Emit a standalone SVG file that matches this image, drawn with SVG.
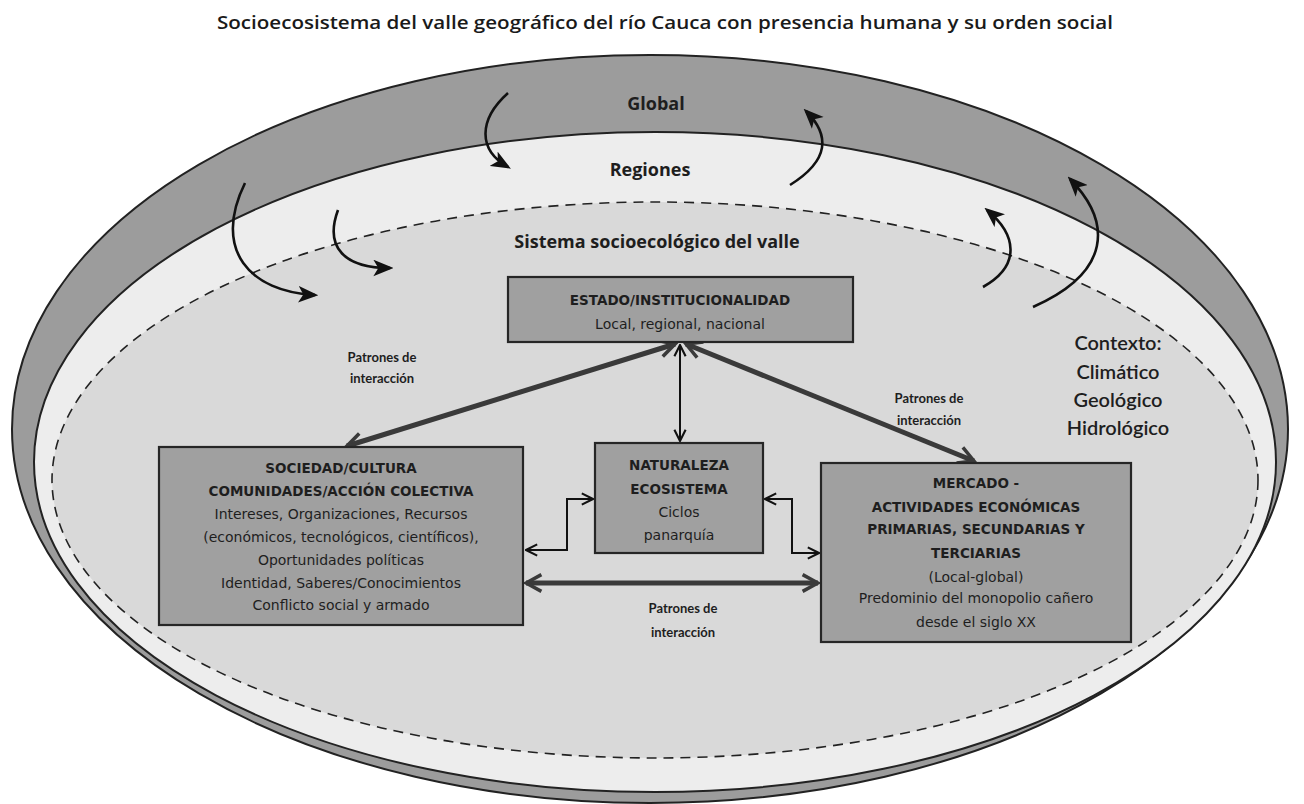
<svg xmlns="http://www.w3.org/2000/svg" width="1304" height="804" viewBox="0 0 1304 804">
<defs>
<style>
.title{font-family:"Open Sans","Liberation Sans",sans-serif;font-weight:600;font-size:18px;fill:#1a1a1a}
.lvl{font-family:"Open Sans","Liberation Sans",sans-serif;font-weight:700;font-size:18px;fill:#1e1e1e}
.box{fill:#a0a0a0;stroke:#262626;stroke-width:2.2}
.hb{font-family:"DejaVu Sans","Liberation Sans",sans-serif;font-weight:700;font-size:13.5px;fill:#1e1e1e;text-anchor:middle}
.tx{font-family:"DejaVu Sans","Liberation Sans",sans-serif;font-weight:400;font-size:14px;fill:#1e1e1e;text-anchor:middle}
.pat{font-family:"Lato","Liberation Sans",sans-serif;font-weight:700;font-size:13px;fill:#1e1e1e;text-anchor:middle}
.ctx{font-family:"Lato","Liberation Sans",sans-serif;font-weight:600;font-size:20px;fill:#1e1e1e;text-anchor:middle}
.thick{fill:none;stroke:#3a3a3a;stroke-width:5;marker-start:url(#chevT);marker-end:url(#chevT)}
.thin{fill:none;stroke:#111;stroke-width:2;marker-start:url(#chev);marker-end:url(#chev)}
.curve{fill:none;stroke:#111;stroke-width:2.6;marker-end:url(#head)}
</style>
<marker id="chev" viewBox="0 0 10 10" refX="9" refY="5" markerWidth="14" markerHeight="14" markerUnits="userSpaceOnUse" orient="auto-start-reverse">
<path d="M1,1 L9,5 L1,9" fill="none" stroke="#111" stroke-width="1.5"/>
</marker>
<marker id="chevT" viewBox="0 0 10 10" refX="8.5" refY="5" markerWidth="22" markerHeight="22" markerUnits="userSpaceOnUse" orient="auto-start-reverse">
<path d="M1.5,1.2 L8.5,5 L1.5,8.8" fill="none" stroke="#3a3a3a" stroke-width="1.6"/>
</marker>
<marker id="head" viewBox="0 0 12 10" refX="10" refY="5" markerWidth="20" markerHeight="17" markerUnits="userSpaceOnUse" orient="auto">
<path d="M0,0 L12,5 L0,10 L3,5 z" fill="#111"/>
</marker>
</defs>
<rect x="0" y="0" width="1304" height="804" fill="#ffffff"/>
<text class="title" x="217" y="29" textLength="896" lengthAdjust="spacingAndGlyphs">Socioecosistema del valle geográfico del río Cauca con presencia humana y su orden social</text>

<g id="global">
<ellipse cx="650" cy="429" rx="638" ry="374" fill="#9c9c9c" stroke="#222" stroke-width="2"/>
<text class="lvl" x="656" y="110" text-anchor="middle">Global</text>
</g>
<g id="regiones">
<ellipse cx="655" cy="462" rx="621" ry="330" fill="#ededed" stroke="#222" stroke-width="2"/>
<text class="lvl" x="650" y="176" text-anchor="middle">Regiones</text>
</g>
<g id="sistema">
<ellipse cx="655" cy="480" rx="603" ry="278" fill="#d9d9d9" stroke="#222" stroke-width="1.6" stroke-dasharray="10 7"/>
<text class="lvl" x="657" y="248" text-anchor="middle">Sistema socioecológico del valle</text>
</g>

<g id="flows">
<path class="curve" d="M508,93 C478,120 478,150 508,167"/>
<path class="curve" d="M790,185 C830,160 830,135 806,111"/>
<path class="curve" d="M245,183 C212,250 250,292 315,295"/>
<path class="curve" d="M338,210 C324,248 345,268 390,268"/>
<path class="curve" d="M983,287 C1022,265 1016,234 987,210"/>
<path class="curve" d="M1033,307 C1112,272 1112,222 1070,179"/>
</g>

<g id="contexto">
<text class="ctx" x="1118" y="350">Contexto:</text>
<text class="ctx" x="1118" y="379">Climático</text>
<text class="ctx" x="1118" y="407">Geológico</text>
<text class="ctx" x="1118" y="435">Hidrológico</text>
</g>

<g id="connectors">
<line class="thick" x1="347" y1="446" x2="675" y2="344"/>
<line class="thick" x1="686" y1="344" x2="974" y2="461"/>
<line class="thin" x1="680" y1="345" x2="680" y2="441"/>
<line class="thick" x1="526" y1="583" x2="818" y2="583"/>
<path class="thin" d="M526,550 H567 V499 H593"/>
<path class="thin" d="M765,499 H792 V553 H819"/>
<text class="pat" x="382" y="362">Patrones de</text>
<text class="pat" x="382" y="383">interacción</text>
<text class="pat" x="929" y="403">Patrones de</text>
<text class="pat" x="929" y="425">interacción</text>
<text class="pat" x="683" y="613">Patrones de</text>
<text class="pat" x="683" y="637">interacción</text>
</g>

<g id="estado">
<rect class="box" x="508" y="277" width="345" height="65"/>
<text class="hb" x="680" y="305">ESTADO/INSTITUCIONALIDAD</text>
<text class="tx" x="680" y="329">Local, regional, nacional</text>
</g>

<g id="naturaleza">
<rect class="box" x="595" y="443" width="168" height="110"/>
<text class="hb" x="679" y="470">NATURALEZA</text>
<text class="hb" x="679" y="494">ECOSISTEMA</text>
<text class="tx" x="679" y="517" font-weight="600">Ciclos</text>
<text class="tx" x="679" y="540" font-weight="600">panarquía</text>
</g>

<g id="sociedad">
<rect class="box" x="159" y="447" width="364" height="178"/>
<text class="hb" x="341" y="473">SOCIEDAD/CULTURA</text>
<text class="hb" x="341" y="496">COMUNIDADES/ACCIÓN COLECTIVA</text>
<text class="tx" x="341" y="519">Intereses, Organizaciones, Recursos</text>
<text class="tx" x="341" y="542">(económicos, tecnológicos, científicos),</text>
<text class="tx" x="341" y="565">Oportunidades políticas</text>
<text class="tx" x="341" y="588">Identidad, Saberes/Conocimientos</text>
<text class="tx" x="341" y="610">Conflicto social y armado</text>
</g>

<g id="mercado">
<rect class="box" x="821" y="463" width="310" height="179"/>
<text class="hb" x="976" y="488">MERCADO -</text>
<text class="hb" x="976" y="512">ACTIVIDADES ECONÓMICAS</text>
<text class="hb" x="976" y="534">PRIMARIAS, SECUNDARIAS Y</text>
<text class="hb" x="976" y="558">TERCIARIAS</text>
<text class="tx" x="976" y="582">(Local-global)</text>
<text class="tx" x="976" y="603">Predominio del monopolio cañero</text>
<text class="tx" x="976" y="627">desde el siglo XX</text>
</g>
</svg>
